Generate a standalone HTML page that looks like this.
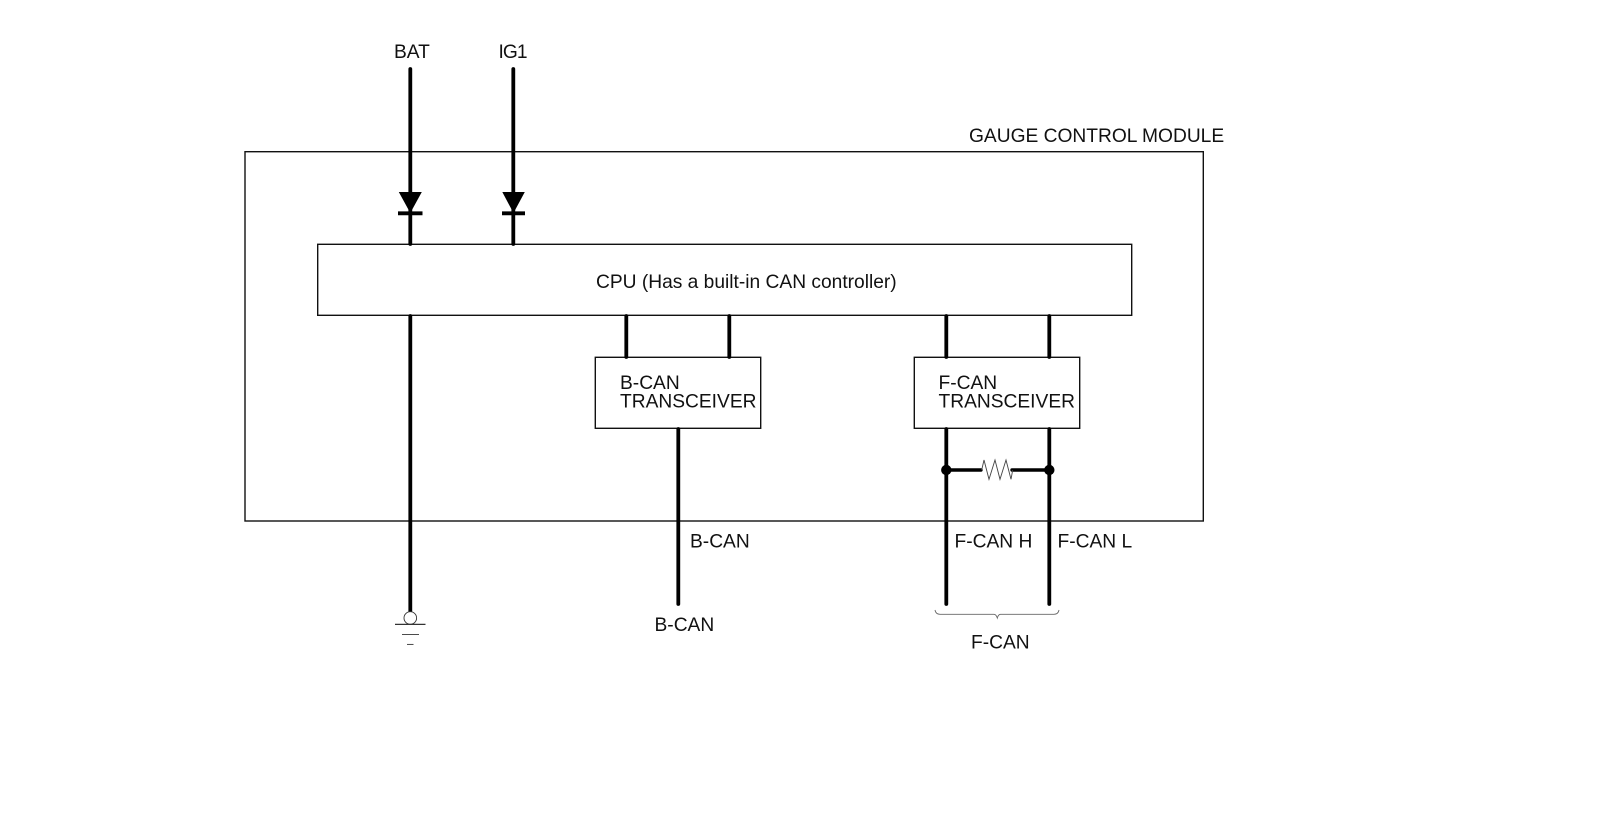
<!DOCTYPE html>
<html>
<head>
<meta charset="utf-8">
<style>
html,body{margin:0;padding:0;background:#fff;width:1600px;height:827px;overflow:hidden}
svg{display:block}
text{font-family:"Liberation Sans",Arial,sans-serif;font-size:19.2px;fill:#111}
</style>
</head>
<body>
<svg width="1600" height="827" viewBox="0 0 1600 827" xmlns="http://www.w3.org/2000/svg">
<rect width="1600" height="827" fill="#fff"/>
<g fill="none" stroke="#111" stroke-width="1.4">
<rect x="245" y="151.7" width="958.3" height="369.3"/>
<rect x="317.7" y="244.3" width="814" height="71"/>
<rect x="595.3" y="357.3" width="165.4" height="71"/>
<rect x="914.3" y="357.3" width="165.4" height="71"/>
</g>
<g stroke="#000" stroke-width="3.8" fill="none" stroke-linecap="round">
<path d="M410.3 69V244"/>
<path d="M513.3 69V244"/>
<path d="M410.3 316V613"/>
<path d="M626.3 316V357"/>
<path d="M729.3 316V357"/>
<path d="M946.3 316V357"/>
<path d="M1049.3 316V357"/>
<path d="M678.3 429V604"/>
<path d="M946.3 429V604"/>
<path d="M1049.3 429V604"/>
<path d="M946.3 470H981" stroke-width="3.4"/>
<path d="M1012 470H1049.3" stroke-width="3.4"/>
<path d="M398 213.3H422.5" stroke-linecap="butt"/>
<path d="M502 213.3H525" stroke-linecap="butt"/>
</g>
<polygon points="398.8,192 421.8,192 410.3,213" fill="#000"/>
<polygon points="502.3,192 524.8,192 513.5,213" fill="#000"/>
<circle cx="946.3" cy="470" r="5.2" fill="#000"/>
<circle cx="1049.3" cy="470" r="5.2" fill="#000"/>
<path d="M981.7 470L984 460L989 479.3L995 460L1000 479.3L1006 460L1011 479.3L1012.7 470" fill="none" stroke="#444" stroke-width="0.9"/>
<g fill="none" stroke="#333">
<circle cx="410.3" cy="618" r="6.3" stroke-width="0.9" fill="#fff"/>
<path d="M395 624.4H425.5" stroke-width="1.3"/>
<path d="M402 634.4H419" stroke-width="0.9"/>
<path d="M407 644.4H413.5" stroke-width="0.9"/>
</g>
<path d="M935 610C935.5 613 937 614.3 940 614.3H994C995.5 614.3 996.5 615.5 997.3 618C998 615.5 999 614.3 1000.5 614.3H1054C1057 614.3 1058.5 613 1059 610" fill="none" stroke="#666" stroke-width="0.9"/>
<text x="394" y="57.8">BAT</text>
<text x="498.5" y="57.8" textLength="29">IG1</text>
<text x="969" y="141.8">GAUGE CONTROL MODULE</text>
<text x="596" y="287.8">CPU (Has a built-in CAN controller)</text>
<text x="620" y="389">B-CAN</text>
<text x="620" y="407.6">TRANSCEIVER</text>
<text x="938.5" y="389">F-CAN</text>
<text x="938.5" y="407.6">TRANSCEIVER</text>
<text x="690" y="547.7">B-CAN</text>
<text x="954.5" y="547.7">F-CAN H</text>
<text x="1057.5" y="547.7">F-CAN L</text>
<text x="654.5" y="630.9">B-CAN</text>
<text x="971" y="648.3">F-CAN</text>
</svg>
</body>
</html>
